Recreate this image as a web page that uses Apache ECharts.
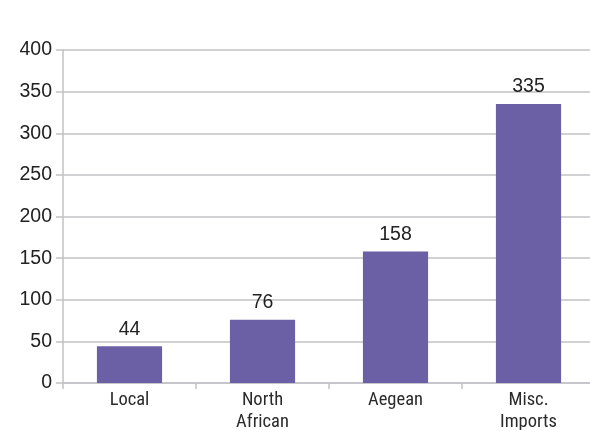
<!DOCTYPE html>
<html>
<head>
<meta charset="utf-8">
<script src="https://cdn.jsdelivr.net/npm/echarts@6/dist/echarts.min.js"></script>
<style>
  html, body { margin: 0; padding: 0; background: #ffffff; }
  #chart { width: 590px; height: 430px; }
</style>
</head>
<body>
<div id="chart"></div>
<script>
// Pottery origin counts per category
const categories = ['Local', 'North\nAfrican', 'Aegean', 'Misc.\nImports'];
const counts = [44, 76, 158, 335];
const yTicks = { min: 0, max: 400, interval: 50 };

const chart = echarts.init(document.getElementById('chart'), null, { renderer: 'canvas' });

chart.setOption({
  animation: false,
  backgroundColor: '#ffffff',
  grid: { left: 63, right: -5, top: 50, bottom: 47, containLabel: false, outerBoundsMode: 'none' },
  xAxis: {
    type: 'category',
    data: categories,
    axisLine: { lineStyle: { color: '#c2c2c6', width: 1.5 } },
    axisTick: { show: true, length: 6, lineStyle: { color: '#c2c2c6', width: 1.5 } },
    axisLabel: {
      color: '#2a2a2a',
      fontFamily: '"Liberation Sans Narrow", "Roboto Condensed", "Liberation Sans", sans-serif',
      fontSize: 18.5,
      lineHeight: 22,
      margin: 6
    }
  },
  yAxis: {
    type: 'value',
    min: yTicks.min,
    max: yTicks.max,
    interval: yTicks.interval,
    axisLine: { show: true, lineStyle: { color: '#c2c2c6', width: 1.5 } },
    axisTick: { show: true, length: 7, lineStyle: { color: '#c2c2c6', width: 1.5 } },
    splitLine: { show: true, lineStyle: { color: '#c2c2c6', width: 1.5 } },
    axisLabel: {
      color: '#222222',
      fontFamily: '"Liberation Sans", Arial, sans-serif',
      fontSize: 19.5,
      margin: 11
    }
  },
  series: [{
    type: 'bar',
    data: counts,
    barWidth: '49%',
    itemStyle: { color: '#6b5fa6' },
    label: {
      show: true,
      position: 'top',
      distance: 7,
      color: '#222222',
      fontFamily: '"Liberation Sans", Arial, sans-serif',
      fontSize: 19.5
    }
  }]
});
</script>
</body>
</html>
